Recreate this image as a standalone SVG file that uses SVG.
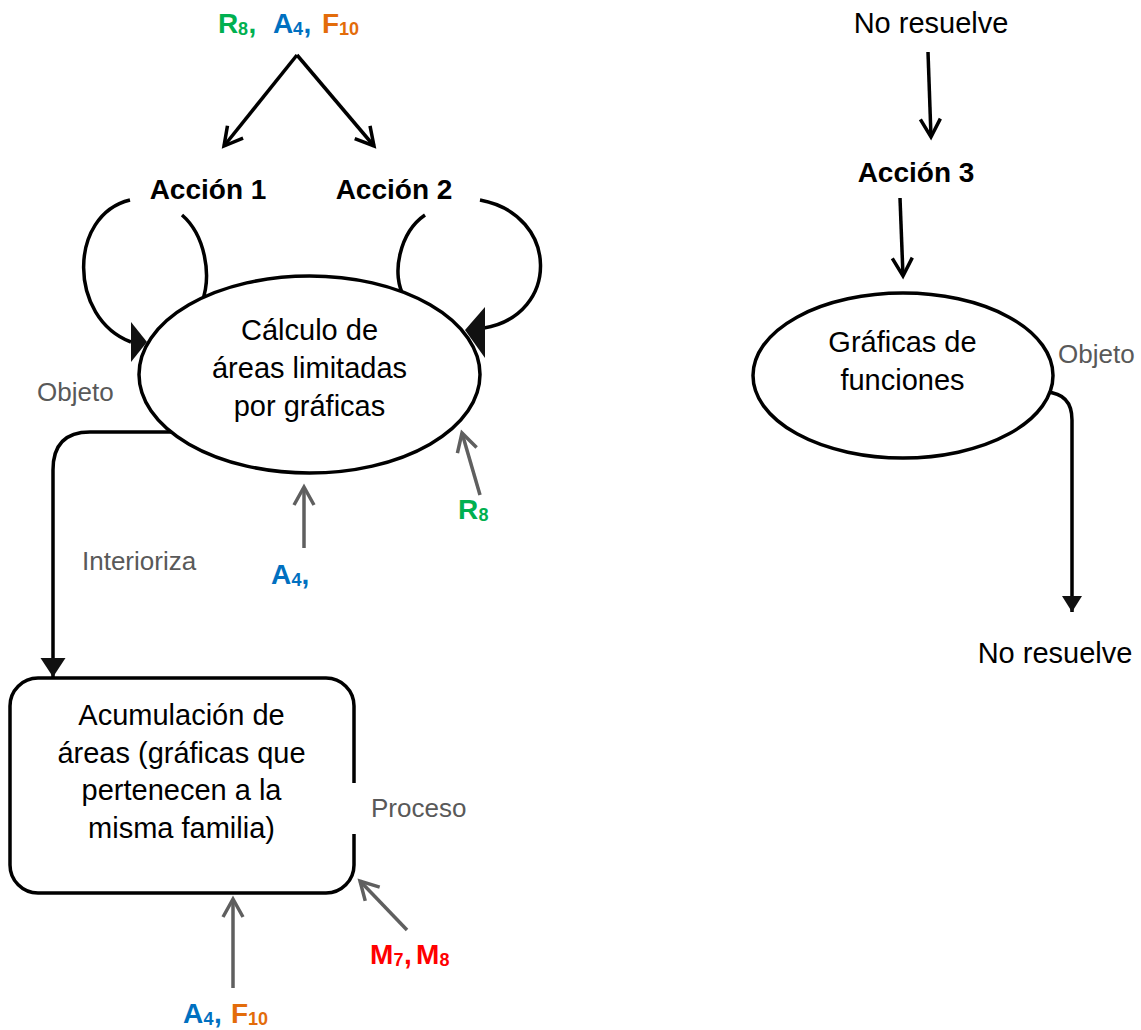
<svg xmlns="http://www.w3.org/2000/svg" width="1141" height="1030" viewBox="0 0 1141 1030">
<style>
text{font-family:"Liberation Sans",Arial,sans-serif}
.b{font-weight:bold;font-size:28px;fill:#000}
.r{font-size:29px;fill:#000}
.g{font-size:26px;fill:#595959}
.cb{font-weight:bold;font-size:28px}
.sub{font-weight:bold;font-size:18px}
.grn{fill:#00B050}.blu{fill:#0070C0}.org{fill:#E36C0A}.red{fill:#FF0000}
.shape{fill:#fff;stroke:#000;stroke-width:3.5}
.k{fill:none;stroke:#000;stroke-width:3.5}
.gr{fill:none;stroke:#5f5f5f;stroke-width:3.5}
.mid{text-anchor:middle}
</style>
<defs>
<marker id="openK" markerUnits="userSpaceOnUse" viewBox="-22 -12 24 24" refX="0" refY="0" markerWidth="24" markerHeight="24" orient="auto" overflow="visible">
<path d="M-18,-10 L0,0 L-18,10" fill="none" stroke="#000" stroke-width="3.5"/>
</marker>
<marker id="openG" markerUnits="userSpaceOnUse" viewBox="-22 -12 24 24" refX="0" refY="0" markerWidth="24" markerHeight="24" orient="auto" overflow="visible">
<path d="M-18,-10 L0,0 L-18,10" fill="none" stroke="#5f5f5f" stroke-width="3.5"/>
</marker>
<marker id="fillBig" markerUnits="userSpaceOnUse" viewBox="-20 -13 22 26" refX="0" refY="0" markerWidth="22" markerHeight="26" orient="auto" overflow="visible">
<path d="M-19,-12.5 L0,0 L-19,12.5 Z" fill="#111"/>
</marker>
<marker id="fillSmall" markerUnits="userSpaceOnUse" viewBox="-18 -11 20 22" refX="0" refY="0" markerWidth="20" markerHeight="22" orient="auto" overflow="visible">
<path d="M-16,-10 L0,0 L-16,10 Z" fill="#111"/>
</marker>
</defs>
<rect width="1141" height="1030" fill="#fff"/>

<g id="connectors">
<path class="k" d="M297,55 L224,146" marker-end="url(#openK)"/>
<path class="k" d="M297,55 L374,146" marker-end="url(#openK)"/>
<path class="k" d="M130,200 C68,215 68,318 131,342"/>
<polygon points="131,322 131,362 147,342" fill="#111"/>
<path class="k" d="M182,215 C205,235 212,275 202,302"/>
<path class="k" d="M480,200 C560,215 560,315 484,328"/>
<polygon points="485,307 485,358 465,330" fill="#111"/>
<path class="k" d="M425,215 C400,232 390,275 405,298"/>
<path class="k" d="M175,432 L90,432 Q53,432 53,470 L53,677" marker-end="url(#fillBig)"/>
<path class="gr" d="M304,548 L304,487" marker-end="url(#openG)"/>
<path class="gr" d="M480,495 L462,433" marker-end="url(#openG)"/>
<path class="gr" d="M233,988 L233,899" marker-end="url(#openG)"/>
<path class="gr" d="M407,930 L360,881" marker-end="url(#openG)"/>
<path class="k" d="M928,52 L931,137" marker-end="url(#openK)"/>
<path class="k" d="M900,198 L903,276" marker-end="url(#openK)"/>
<path class="k" d="M1046,392 C1064,393 1072,403 1072,420 L1072,612" marker-end="url(#fillSmall)"/>
</g>

<g id="calculo">
<ellipse class="shape" cx="309.5" cy="374.5" rx="170.5" ry="98.5"/>
<text class="r mid" x="309.5" y="340">Cálculo de</text>
<text class="r mid" x="309.5" y="378">áreas limitadas</text>
<text class="r mid" x="309.5" y="416">por gráficas</text>
</g>

<g id="graficas">
<ellipse class="shape" cx="903" cy="375.5" rx="150" ry="82.5"/>
<text class="r mid" x="902.5" y="352">Gráficas de</text>
<text class="r mid" x="902.5" y="390">funciones</text>
</g>

<g id="acumulacion">
<path class="shape" d="M354,783 L354,706 A28,28 0 0 0 326,678 L38,678 A28,28 0 0 0 10,706 L10,865 A28,28 0 0 0 38,893 L326,893 A28,28 0 0 0 354,865 L354,834" fill="#fff"/>
<text class="r mid" x="181.5" y="725">Acumulación de</text>
<text class="r mid" x="181.5" y="762.5">áreas (gráficas que</text>
<text class="r mid" x="181.5" y="800">pertenecen a la</text>
<text class="r mid" x="181.5" y="837.5">misma familia)</text>
</g>

<g id="accion1"><text class="b mid" x="208" y="199">Acción 1</text></g>
<g id="accion2"><text class="b mid" x="394" y="199">Acción 2</text></g>
<g id="accion3"><text class="b mid" x="916" y="182">Acción 3</text></g>
<g id="noresuelve1"><text class="r mid" x="931" y="33">No resuelve</text></g>
<g id="noresuelve2"><text class="r mid" x="1055" y="663">No resuelve</text></g>

<g id="labels">
<text class="g" x="37" y="401">Objeto</text>
<text class="g" x="82" y="570">Interioriza</text>
<text class="g" x="1058" y="363">Objeto</text>
<text class="g" x="371" y="817">Proceso</text>
</g>

<g id="codes-top">
<text><tspan class="cb grn" x="218" y="33">R</tspan><tspan class="sub grn" x="238" y="35">8</tspan><tspan class="cb grn" x="248.5" y="33">,</tspan><tspan class="cb blu" x="273" y="33">A</tspan><tspan class="sub blu" x="293" y="35">4</tspan><tspan class="cb blu" x="303.5" y="33">,</tspan><tspan class="cb org" x="322" y="33">F</tspan><tspan class="sub org" x="339" y="35">10</tspan></text>
</g>
<g id="codes-a4">
<text><tspan class="cb blu" x="271" y="584">A</tspan><tspan class="sub blu" x="291.5" y="586">4</tspan><tspan class="cb blu" x="301.5" y="584">,</tspan></text>
</g>
<g id="codes-r8">
<text><tspan class="cb grn" x="458" y="519">R</tspan><tspan class="sub grn" x="478.5" y="521">8</tspan></text>
</g>
<g id="codes-m">
<text><tspan class="cb red" x="370" y="964">M</tspan><tspan class="sub red" x="393.5" y="966">7</tspan><tspan class="cb red" x="404" y="964">,</tspan><tspan class="cb red" x="416" y="964">M</tspan><tspan class="sub red" x="439.5" y="966">8</tspan></text>
</g>
<g id="codes-af">
<text><tspan class="cb blu" x="183" y="1023">A</tspan><tspan class="sub blu" x="203.5" y="1025">4</tspan><tspan class="cb blu" x="214" y="1023">,</tspan><tspan class="cb org" x="231" y="1023">F</tspan><tspan class="sub org" x="248" y="1025">10</tspan></text>
</g>
</svg>
